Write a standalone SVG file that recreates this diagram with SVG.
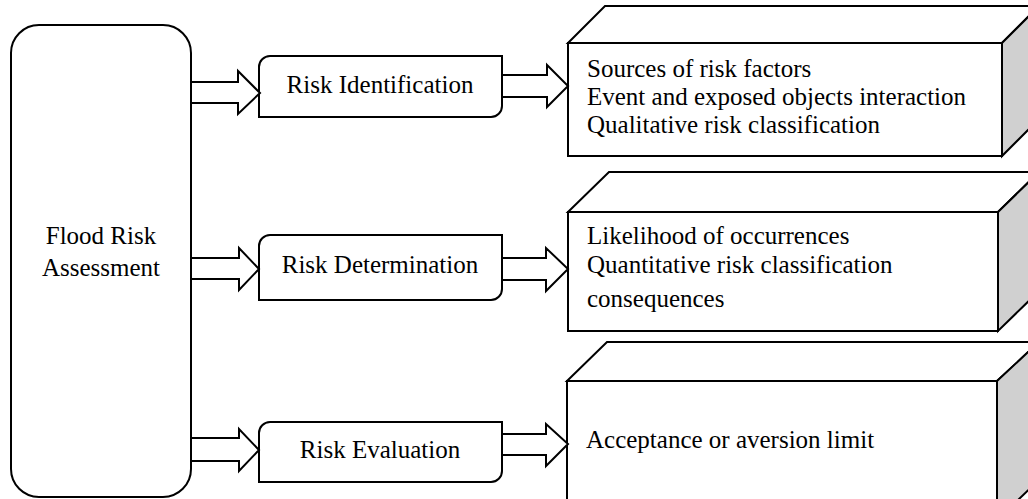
<svg xmlns="http://www.w3.org/2000/svg" width="1028" height="499" viewBox="0 0 1028 499">
<style>
.ln{fill:#fff;stroke:#000;stroke-width:2;stroke-linejoin:miter}
.side{fill:#d0d0d0;stroke:#000;stroke-width:2}
.t{font-family:"Liberation Serif","Times New Roman",serif;font-size:25px;fill:#000}
.c{text-anchor:middle}
</style>
<rect width="1028" height="499" fill="#fff"/>
<g id="flood-risk-assessment">
<rect x="11" y="25" width="180" height="472" rx="28" ry="28" class="ln" stroke-width="2.4"/>
<text class="t c" x="101" y="244">Flood Risk</text>
<text class="t c" x="101" y="276">Assessment</text>
</g>
<g id="risk-identification">
<path class="ln" d="M270,56 H502 V106 A11,11 0 0 1 491,117 H259 V67 A11,11 0 0 1 270,56 Z"/>
<text class="t c" x="380" y="93">Risk Identification</text>
</g>
<g id="risk-determination">
<path class="ln" d="M270,235 H502 V289 A11,11 0 0 1 491,300 H259 V246 A11,11 0 0 1 270,235 Z"/>
<text class="t c" x="380" y="273">Risk Determination</text>
</g>
<g id="risk-evaluation">
<path class="ln" d="M270,422 H502 V471 A11,11 0 0 1 491,482 H259 V433 A11,11 0 0 1 270,422 Z"/>
<text class="t c" x="380" y="458">Risk Evaluation</text>
</g>
<g id="identification-details">
<polygon class="ln" points="568,43 605,6 1039,6 1002,43"/>
<polygon class="side" points="1002,43 1039,6 1039,119 1002,156"/>
<rect class="ln" x="568" y="43" width="434" height="113"/>
<text class="t" x="587" y="77">Sources of risk factors</text>
<text class="t" x="587" y="105">Event and exposed objects interaction</text>
<text class="t" x="587" y="133">Qualitative risk classification</text>
</g>
<g id="determination-details">
<polygon class="ln" points="568,212 609,172 1039,172 998,212"/>
<polygon class="side" points="998,212 1039,172 1039,291 998,331"/>
<rect class="ln" x="568" y="212" width="430" height="119"/>
<text class="t" x="587" y="244">Likelihood of occurrences</text>
<text class="t" x="587" y="273">Quantitative risk classification</text>
<text class="t" x="587" y="307">consequences</text>
</g>
<g id="evaluation-details">
<polygon class="ln" points="567,381 607,342 1039,342 997,381"/>
<polygon class="side" points="997,381 1039,342 1039,480 997,520"/>
<rect class="ln" x="567" y="381" width="430" height="130"/>
<text class="t" x="586" y="448">Acceptance or aversion limit</text>
</g>
<g id="connectors">
<polygon class="ln" points="191,82 238,82 238,71 260,93 238,114 238,103 191,103"/>
<polygon class="ln" points="502,75 547,75 547,65 568,86 547,107 547,97 502,97"/>
<polygon class="ln" points="191,258 239,258 239,248 259,269 239,290 239,279 191,279"/>
<polygon class="ln" points="502,258 546,258 546,248 568,269 546,291 546,280 502,280"/>
<polygon class="ln" points="191,438 239,438 239,429 259,450 239,471 239,461 191,461"/>
<polygon class="ln" points="502,434 546,434 546,424 568,444 546,466 546,455 502,455"/>
</g>
</svg>
